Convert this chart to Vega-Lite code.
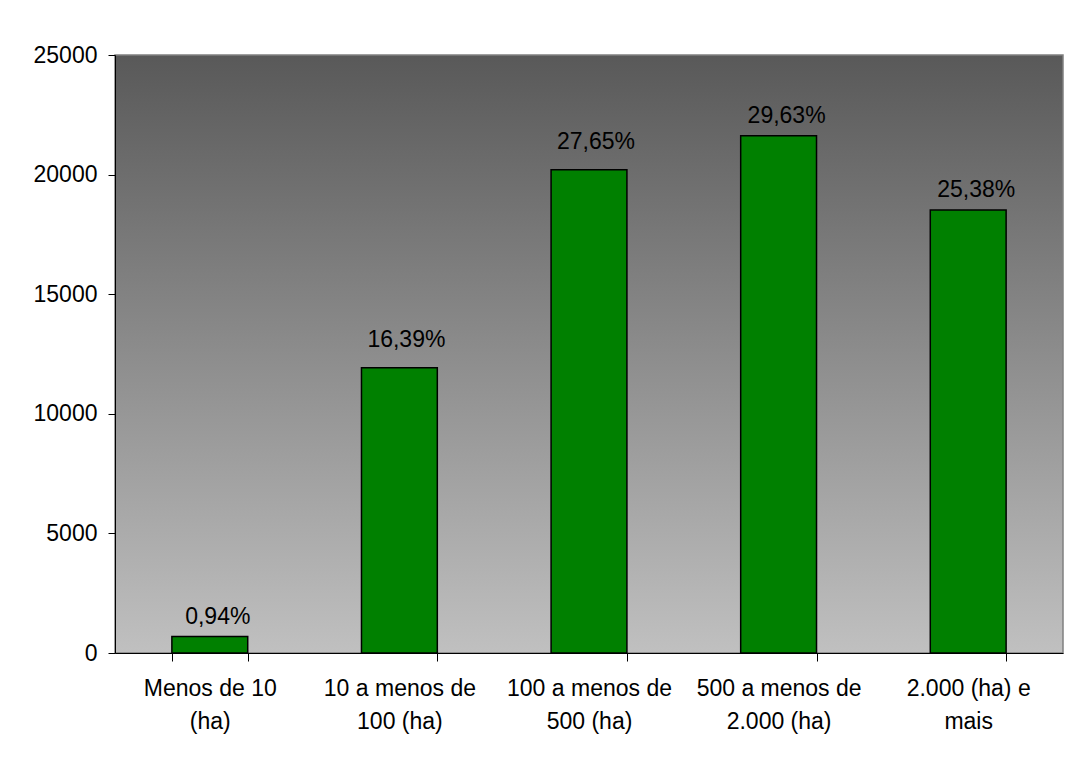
{
  "$schema": "https://vega.github.io/schema/vega-lite/v6.json",
  "width": 948,
  "height": 598,
  "autosize": {"type": "none"},
  "padding": {"left": 115, "top": 55, "right": 3, "bottom": 105},
  "background": "white",
  "config": {
    "font": "Liberation Sans",
    "view": {
      "stroke": "#808080",
      "strokeWidth": 1.5,
      "fill": {
        "gradient": "linear",
        "x1": 0, "y1": 0, "x2": 0, "y2": 1,
        "stops": [
          {"offset": 0, "color": "#595959"},
          {"offset": 1, "color": "#c0c0c0"}
        ]
      }
    },
    "axis": {
      "domainColor": "black",
      "tickColor": "black",
      "labelColor": "black",
      "labelFont": "Liberation Sans",
      "labelFontSize": 23,
      "grid": false,
      "title": null
    }
  },
  "data": {
    "values": [
      {"categoria": "Menos de 10 (ha)", "area": 686, "pct": "0,94%"},
      {"categoria": "10 a menos de 100 (ha)", "area": 11930, "pct": "16,39%"},
      {"categoria": "100 a menos de 500 (ha)", "area": 20200, "pct": "27,65%"},
      {"categoria": "500 a menos de 2.000 (ha)", "area": 21620, "pct": "29,63%"},
      {"categoria": "2.000 (ha) e mais", "area": 18520, "pct": "25,38%"}
    ]
  },
  "encoding": {
    "x": {
      "field": "categoria",
      "type": "nominal",
      "sort": null,
      "scale": {"paddingInner": 0.6, "paddingOuter": 0.3},
      "axis": {
        "tickBand": "extent",
        "tickSize": 8,
        "labelAngle": 0,
        "labelPadding": 16,
        "labelLineHeight": 33,
        "labelBaseline": "top",
        "labelExpr": "{'Menos de 10 (ha)': ['Menos de 10', '(ha)'], '10 a menos de 100 (ha)': ['10 a menos de', '100 (ha)'], '100 a menos de 500 (ha)': ['100 a menos de', '500 (ha)'], '500 a menos de 2.000 (ha)': ['500 a menos de', '2.000 (ha)'], '2.000 (ha) e mais': ['2.000 (ha) e', 'mais']}[datum.label]"
      }
    },
    "y": {
      "field": "area",
      "type": "quantitative",
      "scale": {"domain": [0, 25000], "nice": false},
      "axis": {"values": [0, 5000, 10000, 15000, 20000, 25000], "tickSize": 7, "labelPadding": 11, "format": "d"}
    }
  },
  "layer": [
    {
      "mark": {"type": "bar", "fill": "#008000", "stroke": "black", "strokeWidth": 1.5}
    },
    {
      "transform": [{"filter": "datum.categoria == '10 a menos de 100 (ha)' || datum.categoria == '100 a menos de 500 (ha)'"}],
      "mark": {"type": "text", "baseline": "alphabetic", "dx": 7, "dy": -21, "fontSize": 23, "color": "black", "font": "Liberation Sans"},
      "encoding": {"text": {"field": "pct"}}
    },
    {
      "transform": [{"filter": "datum.categoria != '10 a menos de 100 (ha)' && datum.categoria != '100 a menos de 500 (ha)'"}],
      "mark": {"type": "text", "baseline": "alphabetic", "dx": 8, "dy": -13, "fontSize": 23, "color": "black", "font": "Liberation Sans"},
      "encoding": {"text": {"field": "pct"}}
    }
  ]
}
